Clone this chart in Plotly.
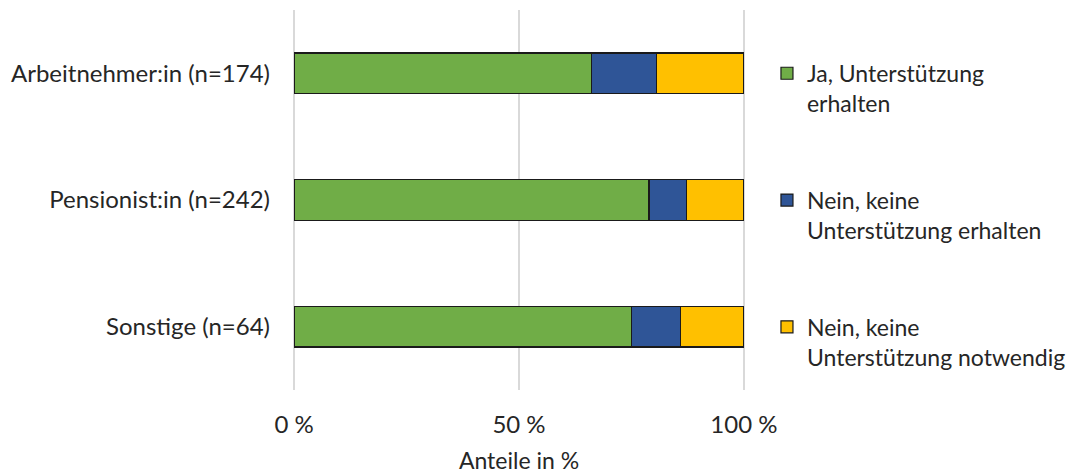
import plotly.graph_objects as go

# Anteile je Gruppe (in %)
gruppen = ["Arbeitnehmer:in (n=174)", "Pensionist:in (n=242)", "Sonstige (n=64)"]
ja_erhalten = [66.1, 78.9, 75.0]
nein_nicht_erhalten = [14.4, 8.3, 10.9]
nein_nicht_notwendig = [19.5, 12.8, 14.1]

serien = [
    ("Ja, Unterstützung<br>erhalten", ja_erhalten, "#70AD47"),
    ("Nein, keine<br>Unterstützung erhalten", nein_nicht_erhalten, "#2F5597"),
    ("Nein, keine<br>Unterstützung notwendig", nein_nicht_notwendig, "#FFC000"),
]

tick_werte = [0, 50, 100]
tick_texte = ["0 %", "50 %", "100 %"]

schrift = "Lato, 'Open Sans', sans-serif"

fig = go.Figure()
for i, (name, werte, farbe) in enumerate(serien):
    fig.add_trace(go.Bar(
        y=gruppen, x=werte, name=name, orientation="h",
        marker=dict(color=farbe, line=dict(color="#1a1a1a", width=1.2)),
        width=0.32, legendgroup=f"g{i}",
    ))

fig.update_layout(
    width=1081, height=474,
    barmode="stack",
    paper_bgcolor="white", plot_bgcolor="white",
    margin=dict(l=293, r=336, t=10, b=84, autoexpand=False),
    font=dict(family=schrift, size=24, color="#262626"),
    xaxis=dict(
        range=[-0.25, 100.25], tickvals=tick_werte, ticktext=tick_texte,
        showgrid=True, gridcolor="#D9D9D9", gridwidth=2,
        zeroline=False, showline=False, ticks="",
        ticklabelstandoff=18, automargin=False,
        title=dict(text="Anteile in %", standoff=21, font=dict(size=23)),
    ),
    yaxis=dict(
        categoryorder="array", categoryarray=gruppen[::-1],
        showgrid=False, zeroline=False, showline=False, ticks="",
        ticklabelstandoff=22, automargin=False,
    ),
    legend=dict(
        x=0.7095, xref="container", y=0.89, xanchor="left", yanchor="top",
        traceorder="grouped", tracegroupgap=64, valign="top",
        itemwidth=30, font=dict(size=23),
    ),
    showlegend=True,
)

fig.write_html("out.html")
